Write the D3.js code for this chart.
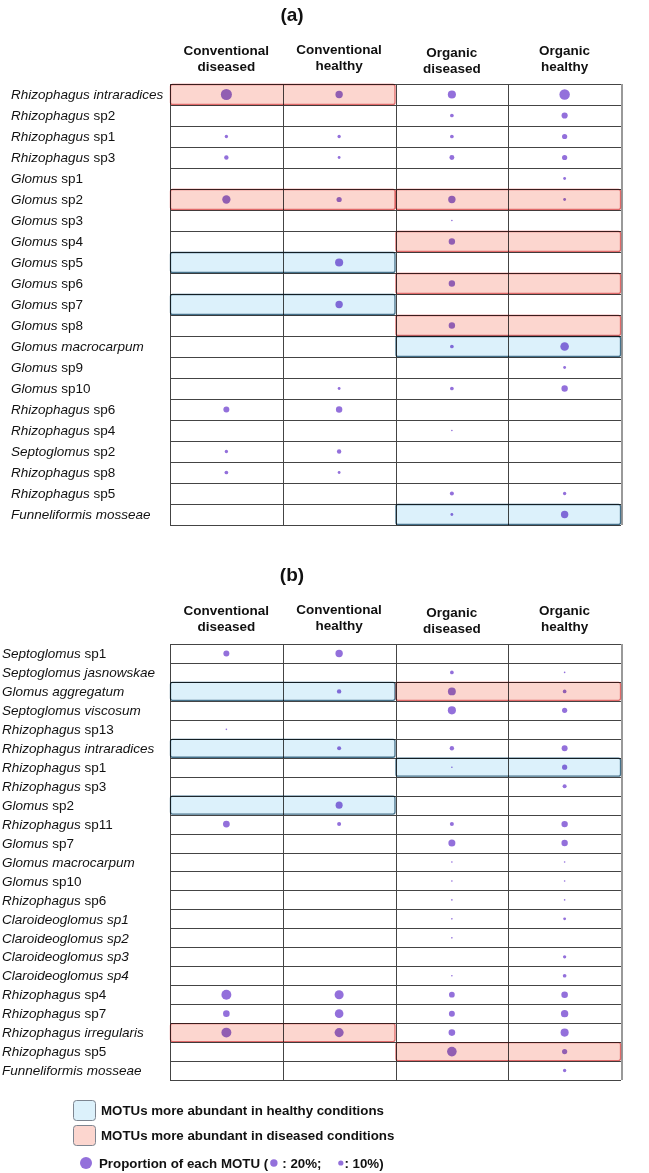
<!DOCTYPE html>
<html>
<head>
<meta charset="utf-8">
<script src="https://cdn.jsdelivr.net/npm/d3@7"></script>
<style>
    body { margin: 0; background: #fff; }
    svg { display: block; font-family: Arial, "Liberation Sans", sans-serif; }
    .label { font-size: 13.5px; fill: #111; }
    .head { font-size: 13.5px; font-weight: bold; fill: #111; }
    .title { font-size: 19px; font-weight: bold; fill: #111; }
    .grid { stroke: #444; stroke-width: 1; shape-rendering: crispEdges; }
    .hl { mix-blend-mode: multiply; stroke-width: 1.3; }
    .legend { font-size: 13.3px; font-weight: bold; fill: #111; }
</style>
</head>
<body>
<svg id="chart" width="649" height="1173"></svg>
<script>
// column conditions
const conditions = [['Conventional', 'diseased'], ['Conventional', 'healthy'], ['Organic', 'diseased'], ['Organic', 'healthy']];
const fullyItalic = ['Claroideoglomus'];

// panel (a)
const rowsA = [
    'Rhizophagus intraradices', 'Rhizophagus sp2', 'Rhizophagus sp1', 'Rhizophagus sp3', 'Glomus sp1',
    'Glomus sp2', 'Glomus sp3', 'Glomus sp4', 'Glomus sp5', 'Glomus sp6', 'Glomus sp7', 'Glomus sp8',
    'Glomus macrocarpum', 'Glomus sp9', 'Glomus sp10', 'Rhizophagus sp6', 'Rhizophagus sp4',
    'Septoglomus sp2', 'Rhizophagus sp8', 'Rhizophagus sp5', 'Funneliformis mosseae',
];
// proportion (%) per condition: CD, CH, OD, OH
const valuesA = [
    [45, 20, 24, 40], [0, 0, 5, 14], [4, 4, 5, 10], [7, 3, 9, 10], [0, 0, 0, 3],
    [25, 10, 20, 3], [0, 0, 1, 0], [0, 0, 15, 0], [0, 24, 0, 0], [0, 0, 15, 0], [0, 20, 0, 0], [0, 0, 15, 0],
    [0, 0, 5, 27], [0, 0, 0, 3], [0, 3, 5, 15], [13, 15, 0, 0], [0, 0, 1, 0],
    [4, 7, 0, 0], [5, 3, 0, 0], [0, 0, 6, 4], [0, 0, 3, 20],
];
// highlighted rows: [row, first column, last column, kind]
const highlightsA = [
    ['Rhizophagus intraradices', 0, 1, 'dis'],
    ['Glomus sp2', 0, 1, 'dis'], ['Glomus sp2', 2, 3, 'dis'],
    ['Glomus sp4', 2, 3, 'dis'], ['Glomus sp5', 0, 1, 'hea'], ['Glomus sp6', 2, 3, 'dis'],
    ['Glomus sp7', 0, 1, 'hea'], ['Glomus sp8', 2, 3, 'dis'], ['Glomus macrocarpum', 2, 3, 'hea'],
    ['Funneliformis mosseae', 2, 3, 'hea'],
];

// panel (b)
const rowsB = [
    'Septoglomus sp1', 'Septoglomus jasnowskae', 'Glomus aggregatum', 'Septoglomus viscosum', 'Rhizophagus sp13',
    'Rhizophagus intraradices', 'Rhizophagus sp1', 'Rhizophagus sp3', 'Glomus sp2', 'Rhizophagus sp11',
    'Glomus sp7', 'Glomus macrocarpum', 'Glomus sp10', 'Rhizophagus sp6', 'Claroideoglomus sp1',
    'Claroideoglomus sp2', 'Claroideoglomus sp3', 'Claroideoglomus sp4', 'Rhizophagus sp4', 'Rhizophagus sp7',
    'Rhizophagus irregularis', 'Rhizophagus sp5', 'Funneliformis mosseae',
];
const valuesB = [
    [13, 20, 0, 0], [0, 0, 5, 1], [0, 7, 23, 5], [0, 0, 24, 10], [1, 0, 0, 0],
    [0, 6, 7, 13], [0, 0, 1, 10], [0, 0, 0, 6], [0, 18, 0, 0], [17, 6, 6, 15],
    [0, 0, 18, 15], [0, 0, 1, 1], [0, 0, 1, 1], [0, 0, 1, 1], [0, 0, 1, 3],
    [0, 0, 1, 0], [0, 0, 0, 4], [0, 0, 1, 5], [36, 30, 12, 16], [16, 27, 13, 20],
    [36, 30, 16, 24], [0, 0, 34, 10], [0, 0, 0, 4],
];
const highlightsB = [
    ['Glomus aggregatum', 0, 1, 'hea'], ['Glomus aggregatum', 2, 3, 'dis'],
    ['Rhizophagus intraradices', 0, 1, 'hea'], ['Rhizophagus sp1', 2, 3, 'hea'],
    ['Glomus sp2', 0, 1, 'hea'], ['Rhizophagus irregularis', 0, 1, 'dis'],
    ['Rhizophagus sp5', 2, 3, 'dis'],
];

const hlStyle = {
    dis: { fill: '#fcd6cf', stroke: '#e06a6a' },
    hea: { fill: '#dcf1fb', stroke: '#45718a' },
};
const dotColor = '#9370db';

const svg = d3.select('#chart');
const r = d3.scaleSqrt().domain([0, 20]).range([0, 3.7]);
const x = d3.scaleBand().domain(d3.range(conditions.length)).range([170, 621]).padding(0);

function drawPanel(cfg) {
    const g = svg.append('g');
    const y = d3.scaleBand().domain(cfg.rows).range([cfg.top, cfg.bottom]).padding(0);

    g.append('text').attr('class', 'title')
        .attr('x', 292).attr('y', cfg.titleY)
        .attr('text-anchor', 'middle')
        .text(cfg.title);

    const head = g.selectAll('.head').data(conditions).enter().append('text')
        .attr('class', 'head')
        .attr('text-anchor', 'middle')
        .attr('x', (d, i) => x(i) + x.bandwidth() / 2)
        .attr('y', (d, i) => cfg.headY + (i === 1 ? -1.5 : i === 2 ? 1.5 : 0));
    head.append('tspan').text(d => d[0]);
    head.append('tspan').attr('x', (d, i) => x(i) + x.bandwidth() / 2).attr('dy', 16).text(d => d[1]);

    // row labels, genus in italics
    const lab = g.selectAll('.label').data(cfg.rows).enter().append('text')
        .attr('class', 'label')
        .attr('x', cfg.labelX)
        .attr('y', d => y(d) + y.bandwidth() / 2 + 4.7);
    lab.each(function (d) {
        const t = d3.select(this);
        const idx = d.lastIndexOf(' ');
        const genus = d.slice(0, idx);
        const rest = d.slice(idx + 1);
        const plainSp = /^sp\d+$/.test(rest) && !fullyItalic.includes(genus);
        t.append('tspan').style('font-style', 'italic').text(genus + ' ');
        t.append('tspan').style('font-style', plainSp ? 'normal' : 'italic').text(rest);
    });

    // grid
    const grid = g.append('g');
    const edges = cfg.rows.map(d => y(d)).concat([cfg.bottom]);
    grid.selectAll('.h').data(edges).enter().append('line')
        .attr('class', 'grid')
        .attr('x1', x.range()[0]).attr('x2', x.range()[1])
        .attr('y1', d => Math.round(d) + 0.5).attr('y2', d => Math.round(d) + 0.5);
    const vx = d3.range(conditions.length).map(i => x(i)).concat([x.range()[1]]);
    grid.selectAll('.v').data(vx).enter().append('line')
        .attr('class', 'grid')
        .attr('x1', d => Math.round(d) + 0.5).attr('x2', d => Math.round(d) + 0.5)
        .attr('y1', cfg.top).attr('y2', cfg.bottom)
        .style('stroke', (d, i) => (i === vx.length - 1 ? '#999' : null))
        .style('stroke-width', (d, i) => (i === vx.length - 1 ? 2 : null));

    // dots
    const cells = [];
    cfg.values.forEach((row, ri) => row.forEach((v, ci) => { if (v > 0) cells.push({ row: cfg.rows[ri], col: ci, v }); }));
    g.append('g').selectAll('circle').data(cells).enter().append('circle')
        .attr('cx', d => x(d.col) + x.bandwidth() / 2)
        .attr('cy', d => y(d.row) + y.bandwidth() / 2)
        .attr('r', d => r(d.v))
        .attr('fill', dotColor);

    // highlight bands on top (multiply)
    g.append('g').selectAll('rect').data(cfg.highlights).enter().append('rect')
        .attr('class', 'hl')
        .attr('x', d => x(d[1]) + 0.5)
        .attr('y', d => y(d[0]) + 0.5)
        .attr('width', d => x(d[2]) + x.bandwidth() - x(d[1]) - 1)
        .attr('height', y.bandwidth() - 1)
        .attr('rx', 2)
        .attr('fill', d => hlStyle[d[3]].fill)
        .attr('stroke', d => hlStyle[d[3]].stroke);
}

drawPanel({ title: '(a)', titleY: 21, headY: 55, top: 84, bottom: 525, labelX: 11, rows: rowsA, values: valuesA, highlights: highlightsA });
drawPanel({ title: '(b)', titleY: 581, headY: 615, top: 644, bottom: 1080, labelX: 2, rows: rowsB, values: valuesB, highlights: highlightsB });

// legend
const leg = svg.append('g');
const swatches = [
    { kind: 'hea', text: 'MOTUs more abundant in healthy conditions', y: 1100 },
    { kind: 'dis', text: 'MOTUs more abundant in diseased conditions', y: 1125 },
];
leg.selectAll('.sw').data(swatches).enter().append('rect')
    .attr('x', 73.5).attr('y', d => d.y + 0.5)
    .attr('width', 22).attr('height', 20).attr('rx', 3)
    .attr('fill', d => hlStyle[d.kind].fill)
    .attr('stroke', '#7d8590').attr('stroke-width', 1);
leg.selectAll('.lt').data(swatches).enter().append('text')
    .attr('class', 'legend')
    .attr('x', 101).attr('y', d => d.y + 15)
    .text(d => d.text);

const sizeY = 1163;
leg.append('circle').attr('cx', 86).attr('cy', sizeY).attr('r', 6).attr('fill', dotColor);
const parts = [
    { text: 'Proportion of each MOTU (', dot: 20 },
    { text: ' : 20%;    ', dot: 10 },
    { text: ': 10%)', dot: null },
];
let cx = 99;
parts.forEach(p => {
    const t = leg.append('text').attr('class', 'legend').attr('x', cx).attr('y', sizeY + 4.8)
        .attr('xml:space', 'preserve').style('white-space', 'pre').text(p.text);
    cx += t.node().getComputedTextLength();
    if (p.dot !== null) {
        const rr = r(p.dot);
        leg.append('circle').attr('cx', cx + rr + 2).attr('cy', sizeY).attr('r', rr).attr('fill', dotColor);
        cx += rr * 2 + 3;
    }
});
</script>
</body>
</html>
